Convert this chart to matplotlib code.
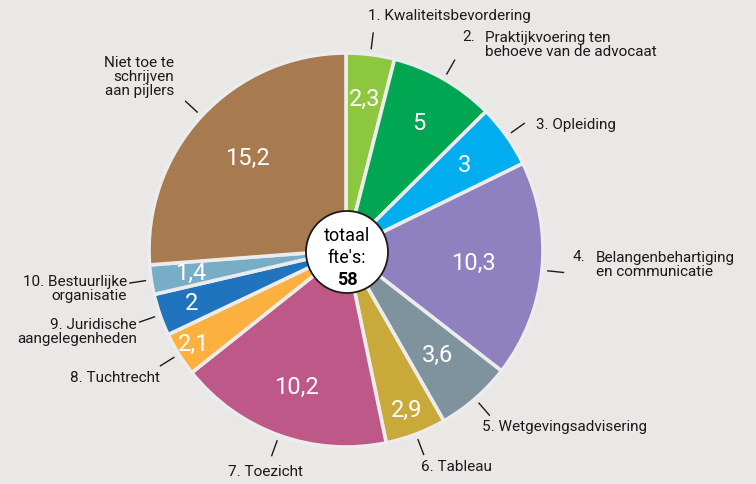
import numpy as np
import matplotlib.pyplot as plt
from matplotlib.patches import Circle

# data
labels = ['1. Kwaliteitsbevordering', '2. Praktijkvoering ten behoeve van de advocaat',
          '3. Opleiding', '4. Belangenbehartiging en communicatie',
          '5. Wetgevingsadvisering', '6. Tableau', '7. Toezicht', '8. Tuchtrecht',
          '9. Juridische aangelegenheden', '10. Bestuurlijke organisatie',
          'Niet toe te schrijven aan pijlers']
fte = [2.3, 5, 3, 10.3, 3.6, 2.9, 10.2, 2.1, 2, 1.4, 15.2]
value_text = ['2,3', '5', '3', '10,3', '3,6', '2,9', '10,2', '2,1', '2', '1,4', '15,2']
total = 58

colors = ['#8dc63f', '#00a651', '#00aeef', '#8f80bf', '#7e939e', '#c9a93a',
          '#bd5888', '#fbb040', '#1f74bd', '#77adc6', '#a77b4f']
# radius (fraction) at which the value sits inside each wedge
val_r = [0.77, 0.74, 0.74, 0.65, 0.71, 0.87, 0.74, 0.91, 0.83, 0.80, 0.68]

bg = '#e9e8e6'
plt.rcParams['font.family'] = ['Roboto', 'DejaVu Sans']

fig = plt.figure(figsize=(7.56, 4.84), dpi=100, facecolor=bg)
ax = fig.add_axes([0, 0, 1, 1])
ax.set_facecolor(bg)

cx, cy, R = 346, 250, 197
# y axis gets inverted below: data angle -90 is the top, counterclock in data = clockwise on screen
wedges, _ = ax.pie(fte, colors=colors, startangle=-90, counterclock=True,
                   center=(cx, cy), radius=R, frame=True,
                   wedgeprops=dict(edgecolor='#ececec', linewidth=2.6))
ax.set_xlim(0, 756)
ax.set_ylim(484, 0)
ax.set_aspect('equal')
ax.axis('off')

for w, t, fr in zip(wedges, value_text, val_r):
    mid = np.deg2rad((w.theta1 + w.theta2) / 2)
    x = cx + fr * R * np.cos(mid)
    y = cy + fr * R * np.sin(mid)
    ax.text(x, y, t, color='white', fontsize=17, ha='center', va='center')
    # short leader line
    x1, y1 = cx + 1.03 * R * np.cos(mid), cy + 1.03 * R * np.sin(mid)
    x2, y2 = cx + 1.11 * R * np.cos(mid), cy + 1.11 * R * np.sin(mid)
    ax.plot([x1, x2], [y1, y2], color='#1a1a1a', lw=1)

# centre circle
ax.add_patch(Circle((347, 252), 41, facecolor='white', edgecolor='#1a1a1a', lw=1.3, zorder=5))
ax.text(347, 236, 'totaal', fontsize=13, ha='center', va='center', zorder=6)
ax.text(347, 258, "fte's:", fontsize=13, ha='center', va='center', zorder=6)
ax.text(347, 280, str(total), fontsize=13, fontweight='bold', ha='center', va='center', zorder=6)

fs = 11
tc = '#1a1a1a'
ax.text(368, 16, '1. Kwaliteitsbevordering', fontsize=fs, color=tc, va='center')
ax.text(462, 37, '2.', fontsize=fs, color=tc, va='center')
ax.text(485, 45, 'Praktijkvoering ten\nbehoeve van de advocaat', fontsize=fs, color=tc,
        va='center', linespacing=1.0)
ax.text(536, 125, '3. Opleiding', fontsize=fs, color=tc, va='center')
ax.text(573, 257, '4.', fontsize=fs, color=tc, va='center')
ax.text(596, 265, 'Belangenbehartiging\nen communicatie', fontsize=fs, color=tc,
        va='center', linespacing=1.0)
ax.text(482, 427, '5. Wetgevingsadvisering', fontsize=fs, color=tc, va='center')
ax.text(421, 467, '6. Tableau', fontsize=fs, color=tc, va='center')
ax.text(228, 472, '7. Toezicht', fontsize=fs, color=tc, va='center')
ax.text(160, 378, '8. Tuchtrecht', fontsize=fs, color=tc, va='center', ha='right')
ax.text(137, 332, '9. Juridische\naangelegenheden', fontsize=fs, color=tc,
        va='center', ha='right', multialignment='right', linespacing=1.0)
ax.text(127, 289, '10. Bestuurlijke\norganisatie', fontsize=fs, color=tc,
        va='center', ha='right', multialignment='right', linespacing=1.0)
ax.text(174, 77, 'Niet toe te\nschrijven\naan pijlers', fontsize=fs, color=tc,
        va='center', ha='right', multialignment='right', linespacing=1.0)

fig.savefig('out.png', dpi=100, facecolor=bg)
